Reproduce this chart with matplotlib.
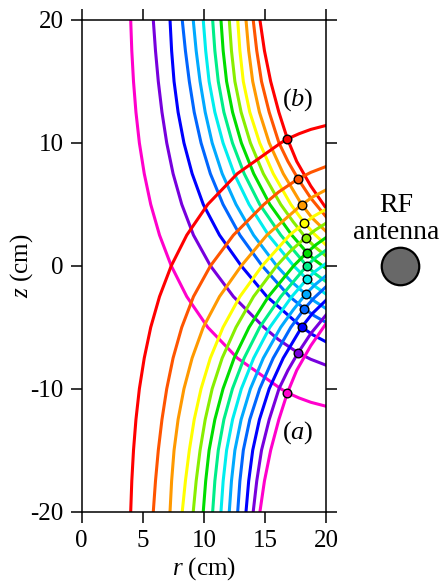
import matplotlib
matplotlib.use('Agg')
import matplotlib.pyplot as plt

plt.rcParams['font.family'] = ['Liberation Serif', 'DejaVu Serif']
plt.rcParams['mathtext.fontset'] = 'custom'
plt.rcParams['mathtext.rm'] = 'Liberation Serif'
plt.rcParams['mathtext.it'] = 'Liberation Serif:italic'

# colour of each pair of curves (red ... magenta)
colors = ['#ff0000', '#ff5500', '#ff9900', '#ffff00', '#88ee00', '#00dd00', '#00ee88',
          '#00eeee', '#00aaff', '#0066ff', '#0000ff', '#7700dd', '#ff00cc']

# curves rising from the bottom edge (a)
a_z = [
    [-20, -17.5, -15, -12.5, -10, -7.5, -5, -2.5, 0, 2.5, 5, 7.5, 10, 10.33, 10.75, 11.1, 11.42],
    [-20, -17.5, -15, -12.5, -10, -7.5, -5, -2.5, 0, 2.5, 5, 6, 7.08, 7.6, 8.08],
    [-20, -17.5, -15, -12.5, -10, -7.5, -5, -2.5, 0, 2.5, 4.97, 5.6, 6.18],
    [-20, -17.5, -15, -12.5, -10, -7.5, -5, -2.5, 0, 2.5, 3.47, 4.05, 4.6],
    [-20, -17.5, -15, -12.5, -10, -7.5, -5, -2.5, 0, 1.2, 2.3, 2.9, 3.47],
    [-20, -17.5, -15, -12.5, -10, -7.5, -5, -2.5, 0, 1.08, 1.7, 2.3],
    [-20, -17.5, -15, -12.5, -10, -7.5, -5, -2.5, 0.02, 0.65, 1.28],
    [-20, -17.5, -15, -12.5, -10, -7.5, -5, -2.5, -1.08, -0.45, 0.2],
    [-20, -17.5, -15, -12.5, -10, -7.5, -5, -3.6, -2.3, -1.55, -0.8],
    [-20, -17.5, -15, -12.5, -10, -7.5, -5, -3.5, -2.6, -1.7],
    [-20, -17.5, -15, -12.5, -10, -7.5, -5, -3.9, -2.8],
    [-20, -17.5, -15, -12.5, -10, -8.5, -7.05, -5.5, -4.0],
    [-20, -17.5, -15, -12.5, -10.36, -8.5, -6.5, -4.7],
]
a_r = [
    [4.01, 4.10, 4.24, 4.44, 4.72, 5.12, 5.65, 6.37, 7.33, 8.60, 10.32, 12.74, 16.3, 16.85, 17.8, 18.76, 20],
    [5.86, 6.04, 6.27, 6.57, 6.96, 7.48, 8.19, 9.15, 10.54, 12.42, 14.92, 16.11, 17.72, 18.75, 20],
    [7.23, 7.36, 7.56, 7.89, 8.37, 9.04, 9.95, 11.28, 13.06, 15.16, 18.0, 18.9, 20],
    [8.23, 8.49, 8.81, 9.21, 9.77, 10.53, 11.57, 12.95, 14.77, 17.02, 18.22, 19.02, 20],
    [9.13, 9.37, 9.69, 10.11, 10.68, 11.50, 12.63, 14.07, 15.96, 17.08, 18.33, 19.1, 20],
    [9.95, 10.15, 10.43, 10.90, 11.57, 12.48, 13.70, 15.29, 17.35, 18.44, 19.15, 20],
    [10.72, 10.90, 11.18, 11.64, 12.34, 13.30, 14.57, 16.3, 18.44, 19.12, 20],
    [11.4, 11.58, 11.86, 12.35, 13.07, 14.08, 15.40, 17.2, 18.44, 19.11, 20],
    [12.08, 12.26, 12.54, 13.05, 13.81, 14.87, 16.29, 17.3, 18.33, 19.08, 20],
    [12.77, 12.95, 13.23, 13.76, 14.57, 15.68, 17.12, 18.22, 19.03, 20],
    [13.45, 13.67, 14.00, 14.55, 15.35, 16.5, 18.0, 18.86, 20],
    [14.04, 14.33, 14.72, 15.35, 16.15, 16.88, 17.73, 18.76, 20],
    [14.59, 14.96, 15.47, 16.14, 16.83, 17.6, 18.75, 20],
]

# curves coming down from the top edge (b)
b_z = [
    [20, 17.5, 15, 12.5, 10.36, 8.5, 6.5, 4.7],
    [20, 17.5, 15, 12.5, 10, 8.5, 7.05, 5.5, 4.0],
    [20, 17.5, 15, 12.5, 10, 7.5, 5, 3.9, 2.8],
    [20, 17.5, 15, 12.5, 10, 7.5, 5, 3.5, 2.6, 1.7],
    [20, 17.5, 15, 12.5, 10, 7.5, 5, 3.6, 2.3, 1.55, 0.8],
    [20, 17.5, 15, 12.5, 10, 7.5, 5, 2.5, 1.08, 0.45, -0.2],
    [20, 17.5, 15, 12.5, 10, 7.5, 5, 2.5, -0.02, -0.65, -1.28],
    [20, 17.5, 15, 12.5, 10, 7.5, 5, 2.5, 0, -1.08, -1.7, -2.3],
    [20, 17.5, 15, 12.5, 10, 7.5, 5, 2.5, 0, -1.2, -2.3, -2.9, -3.47],
    [20, 17.5, 15, 12.5, 10, 7.5, 5, 2.5, 0, -2.5, -3.47, -4.05, -4.6],
    [20, 17.5, 15, 12.5, 10, 7.5, 5, 2.5, 0, -2.5, -4.97, -5.6, -6.18],
    [20, 17.5, 15, 12.5, 10, 7.5, 5, 2.5, 0, -2.5, -5, -6, -7.08, -7.6, -8.08],
    [20, 17.5, 15, 12.5, 10, 7.5, 5, 2.5, 0, -2.5, -5, -7.5, -10, -10.33, -10.75, -11.1, -11.42],
]
b_r = [
    [14.59, 14.96, 15.47, 16.14, 16.83, 17.6, 18.75, 20],
    [14.04, 14.33, 14.72, 15.35, 16.15, 16.88, 17.73, 18.76, 20],
    [13.45, 13.67, 14.00, 14.55, 15.35, 16.5, 18.0, 18.86, 20],
    [12.77, 12.95, 13.23, 13.76, 14.57, 15.68, 17.12, 18.22, 19.03, 20],
    [12.08, 12.26, 12.54, 13.05, 13.81, 14.87, 16.29, 17.3, 18.33, 19.08, 20],
    [11.4, 11.58, 11.86, 12.35, 13.07, 14.08, 15.40, 17.2, 18.44, 19.11, 20],
    [10.72, 10.90, 11.18, 11.64, 12.34, 13.30, 14.57, 16.3, 18.44, 19.12, 20],
    [9.95, 10.15, 10.43, 10.90, 11.57, 12.48, 13.70, 15.29, 17.35, 18.44, 19.15, 20],
    [9.13, 9.37, 9.69, 10.11, 10.68, 11.50, 12.63, 14.07, 15.96, 17.08, 18.33, 19.1, 20],
    [8.23, 8.49, 8.81, 9.21, 9.77, 10.53, 11.57, 12.95, 14.77, 17.02, 18.22, 19.02, 20],
    [7.23, 7.36, 7.56, 7.89, 8.37, 9.04, 9.95, 11.28, 13.06, 15.16, 18.0, 18.9, 20],
    [5.86, 6.04, 6.27, 6.57, 6.96, 7.48, 8.19, 9.15, 10.54, 12.42, 14.92, 16.11, 17.72, 18.75, 20],
    [4.01, 4.10, 4.24, 4.44, 4.72, 5.12, 5.65, 6.37, 7.33, 8.60, 10.32, 12.74, 16.3, 16.85, 17.8, 18.76, 20],
]

# crossing points of same coloured curves
marker_r = [16.84, 17.73, 18.0, 18.22, 18.33, 18.44, 18.44, 18.44, 18.33, 18.22, 18.0, 17.73, 16.84]
marker_z = [10.35, 7.07, 4.98, 3.48, 2.3, 1.08, 0.0, -1.08, -2.3, -3.48, -4.98, -7.07, -10.35]

xticks = [0, 5, 10, 15, 20]
xticklabels = ['0', '5', '10', '15', '20']
yticks = [20, 10, 0, -10, -20]
yticklabels = ['20', '10', '0', '-10', '-20']

fig = plt.figure(figsize=(4.48, 5.83), dpi=100)
ax = fig.add_axes([0.1824, 0.1223, 0.5453, 0.8434])

for i in range(len(colors)):
    ax.plot(b_r[i], b_z[i], color=colors[i], lw=2.2, solid_joinstyle='round')
for i in range(len(colors)):
    ax.plot(a_r[i], a_z[i], color=colors[i], lw=2.2, solid_joinstyle='round')
for i in range(len(colors)):
    ax.plot(marker_r[i], marker_z[i], 'o', ms=6.2, mfc=colors[i], mec='black', mew=1.0, zorder=5)

ax.set_xlim(0, 20)
ax.set_ylim(-20, 20)
ax.set_xticks(xticks)
ax.set_xticklabels(xticklabels)
ax.set_yticks(yticks)
ax.set_yticklabels(yticklabels)
ax.tick_params(direction='out', length=8, width=1.1, labelsize=18, pad=5,
               top=True, right=True)
for s in ax.spines.values():
    s.set_linewidth(1.1)

ax.set_xlabel('$r$ (cm)', fontsize=18)
ax.set_ylabel('$z$ (cm)', fontsize=18)
ax.xaxis.set_label_coords(0.5, -0.088)
ax.yaxis.set_label_coords(-0.19, 0.5)

ax.text(17.73, 13.5, '($b$)', fontsize=19, ha='center', va='center')
ax.text(17.73, -13.6, '($a$)', fontsize=19, ha='center', va='center')

# RF antenna, outside the axes on the right
ax.plot(26.05, 0, 'o', ms=27, mfc='#686868', mec='black', mew=1.6, clip_on=False)
ax.text(25.72, 4.42, 'RF', fontsize=20, ha='center', va='baseline', clip_on=False)
ax.text(25.72, 2.17, 'antenna', fontsize=20, ha='center', va='baseline', clip_on=False)

fig.savefig('out.png', dpi=100)
